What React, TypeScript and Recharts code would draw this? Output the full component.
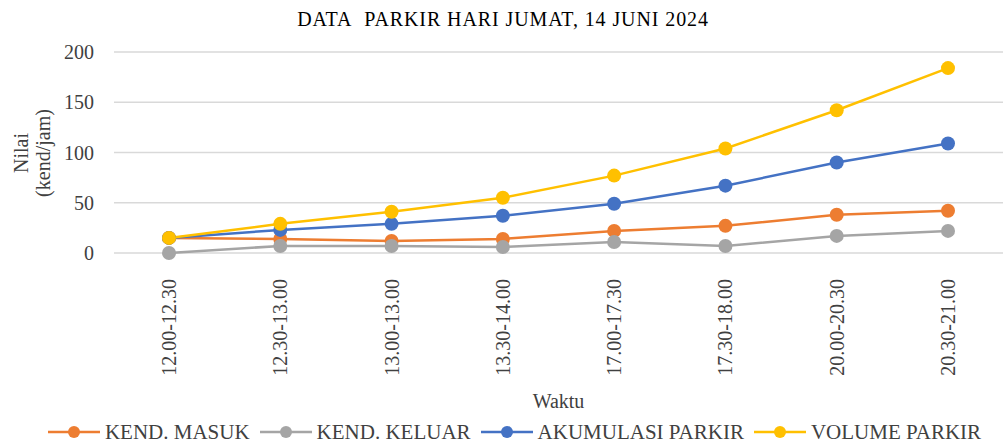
import { LineChart, Line, XAxis, YAxis, CartesianGrid, Legend } from 'recharts';

const waktu = ['12.00-12.30', '12.30-13.00', '13.00-13.00', '13.30-14.00', '17.00-17.30', '17.30-18.00', '20.00-20.30', '20.30-21.00'];
const kendMasuk = [15, 14, 12, 14, 22, 27, 38, 42];
const kendKeluar = [0, 7, 7, 6, 11, 7, 17, 22];
const akumulasiParkir = [15, 23, 29, 37, 49, 67, 90, 109];
const volumeParkir = [15, 29, 41, 55, 77, 104, 142, 184];
const yTicks = [0, 50, 100, 150, 200];

const series = [
  { key: 'masuk', name: 'KEND. MASUK', color: '#ED7D31', values: kendMasuk },
  { key: 'keluar', name: 'KEND. KELUAR', color: '#A5A5A5', values: kendKeluar },
  { key: 'akumulasi', name: 'AKUMULASI PARKIR', color: '#4472C4', values: akumulasiParkir },
  { key: 'volume', name: 'VOLUME PARKIR', color: '#FFC000', values: volumeParkir },
];

const data = waktu.map((w, i) => {
  const row: any = { waktu: w };
  series.forEach(s => { row[s.key] = s.values[i]; });
  return row;
});

const FONT = '"Liberation Serif", "Times New Roman", serif';

const XTick = ({ x, y, payload }: any) => (
  <text
    x={0}
    y={0}
    transform={`translate(${x + 7},${y + 18}) rotate(-90)`}
    textAnchor="end"
    style={{ fontFamily: FONT, fontSize: 20 }}
    fill="#404040"
  >
    {payload.value}
  </text>
);

const YLabel = () => (
  <text transform="translate(33,153) rotate(-90)" textAnchor="middle" style={{ fontFamily: FONT, fontSize: 20 }} fill="#404040">
    <tspan x={0} dy={-5}>Nilai</tspan>
    <tspan x={0} dy={22}>(kend/jam)</tspan>
  </text>
);

const LegendContent = () => (
  <div style={{ display: 'flex', justifyContent: 'center', alignItems: 'center', height: 24, fontFamily: FONT, fontSize: 21, color: '#404040', paddingLeft: 36 }}>
    {series.map(s => (
      <div key={s.key} style={{ display: 'flex', alignItems: 'center', marginRight: 10 }}>
        <svg width={52} height={14} style={{ marginRight: 5 }}>
          <line x1={0} y1={7} x2={52} y2={7} stroke={s.color} strokeWidth={2.5} />
          <circle cx={26} cy={7} r={6} fill={s.color} />
        </svg>
        <span>{s.name}</span>
      </div>
    ))}
  </div>
);

export default function App() {
  return (
    <div style={{ position: 'absolute', left: 0, top: 0, width: 1003, height: 444, background: '#fff', fontFamily: FONT }}>
      <div style={{ position: 'absolute', left: 0, top: 8, width: 1003, textAlign: 'center', fontFamily: FONT, fontSize: 20, letterSpacing: 0.9, color: '#000', zIndex: 1 }}>
        <span style={{ marginLeft: 3 }}>DATA&nbsp; PARKIR HARI JUMAT, 14 JUNI 2024</span>
      </div>
      <LineChart width={1003} height={444} data={data} margin={{ top: 52, right: 0, left: 0, bottom: 0 }} style={{ fontFamily: FONT }}>
        <CartesianGrid vertical={false} stroke="#d9d9d9" strokeWidth={1.5} />
        <XAxis
          dataKey="waktu"
          axisLine={false}
          tickLine={false}
          interval={0}
          height={167}
          padding={{ left: 55, right: 55 }}
          tick={<XTick />}
          label={{ value: 'Waktu', position: 'insideBottom', offset: 12, fontSize: 20, fontFamily: FONT, fill: '#404040' }}
        />
        <YAxis
          width={114}
          domain={[0, 200]}
          ticks={yTicks}
          axisLine={false}
          tickLine={false}
          tickMargin={14}
          tick={{ fontSize: 20, fontFamily: FONT, fill: '#404040' }}
          label={<YLabel />}
        />
        <Legend verticalAlign="bottom" content={<LegendContent />} />
        {series.map(s => (
          <Line
            key={s.key}
            dataKey={s.key}
            name={s.name}
            stroke={s.color}
            strokeWidth={2.5}
            dot={{ r: 7, fill: s.color, stroke: s.color, strokeWidth: 0 }}
            activeDot={false}
            isAnimationActive={false}
          />
        ))}
      </LineChart>
    </div>
  );
}
